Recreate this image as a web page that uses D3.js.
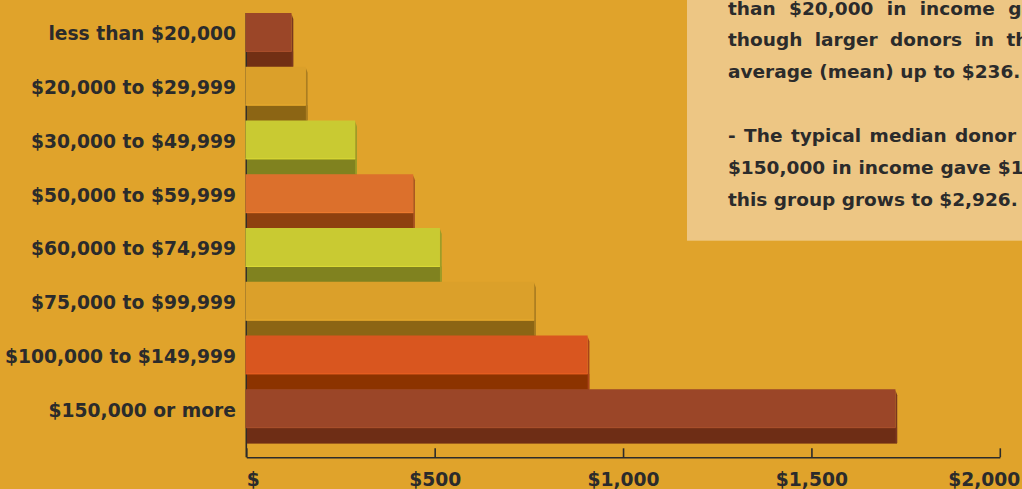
<!DOCTYPE html>
<html>
<head>
<meta charset="utf-8">
<script src="https://cdn.jsdelivr.net/npm/d3@7"></script>
<style>
  html, body { margin: 0; padding: 0; overflow: hidden; }
  body { background: #e0a32b; }
  text { font-family: "DejaVu Sans", sans-serif; font-weight: bold; fill: #2b2b2b; }
</style>
</head>
<body>
<svg></svg>
<script>
// income groups, top to bottom
var categories = ['less than $20,000', '$20,000 to $29,999', '$30,000 to $49,999',
    '$50,000 to $59,999', '$60,000 to $74,999', '$75,000 to $99,999',
    '$100,000 to $149,999', '$150,000 or more'];
// median gift in dollars
var values = [120, 158, 289, 443, 514, 764, 906, 1723];
var barColors = ['#9b4628', '#dba02a', '#c9ca32', '#dc702c', '#c9ca32', '#dba02a', '#d9561f', '#9b4628'];
var shadeColors = ['#722f14', '#8c6514', '#80821f', '#8e400f', '#80821f', '#8c6514', '#8c3300', '#6e2d15'];
var tickValues = [0, 500, 1000, 1500, 2000];
var tickLabels = ['$', '$500', '$1,000', '$1,500', '$2,000'];
var noteLines = [
    {t: 'than $20,000 in income gave', ws: 7},
    {t: 'though larger donors in this group', ws: 6},
    {t: 'average (mean) up to $236.', ws: 0.3},
    {t: '', ws: 0},
    {t: '- The typical median donor with', ws: 2},
    {t: '$150,000 in income gave $1', ws: 0.5},
    {t: 'this group grows to $2,926.', ws: 0}
];

var width = 1022,
    height = 489;

var svg = d3.select('svg')
    .attr('width', width)
    .attr('height', height);

svg.append('rect')
    .attr('width', width)
    .attr('height', height)
    .attr('fill', '#e0a32b');

// note box on the right
svg.append('rect')
    .attr('x', 687)
    .attr('y', -10)
    .attr('width', 400)
    .attr('height', 250.7)
    .attr('fill', '#edc684');

svg.selectAll('text.note')
    .data(noteLines)
    .enter().append('text')
    .classed('note', true)
    .attr('x', 728)
    .attr('y', function(d, i){ return 14.5 + i * 31.9; })
    .style('font-size', '18.5px')
    .style('word-spacing', function(d){ return d.ws + 'px'; })
    .text(function(d){ return d.t; });

var x = d3.scaleLinear()
    .domain([0, 2000])
    .range([246.3, 999.8]);

var y = d3.scaleBand()
    .domain(categories)
    .range([13, 443])
    .padding(0);

var axisY = 457.3;

// vertical axis line sits behind the bars
svg.append('line')
    .attr('x1', x(0)).attr('x2', x(0))
    .attr('y1', y.range()[0]).attr('y2', axisY)
    .attr('stroke', '#2b2b2b')
    .attr('stroke-width', 1.6);

var bh = y.bandwidth();
var front = bh * 0.715;

var bars = svg.selectAll('g.bar')
    .data(values)
    .enter().append('g')
    .classed('bar', true);

// darker lower face
bars.append('rect')
    .attr('x', x(0) + 0.6)
    .attr('y', function(d, i){ return y(categories[i]) + front; })
    .attr('width', function(d){ return x(d) - x(0) + 1; })
    .attr('height', bh - front + 0.6)
    .attr('fill', function(d, i){ return shadeColors[i]; });

// right side sliver
bars.append('polygon')
    .attr('points', function(d, i){
        var t = y(categories[i]), e = x(d);
        return [[e, t + 1], [e + 1.8, t + 6], [e + 1.8, t + bh], [e, t + bh]].join(' ');
    })
    .attr('fill', function(d, i){ return d3.color(barColors[i]).darker(0.7); });

// main front face
bars.append('rect')
    .attr('x', x(0) - 0.8)
    .attr('y', function(d, i){ return y(categories[i]); })
    .attr('width', function(d){ return x(d) - x(0) + 0.8; })
    .attr('height', front)
    .attr('fill', function(d, i){ return barColors[i]; });

bars.append('line')
    .attr('x1', x(0) - 0.8)
    .attr('x2', function(d){ return x(d); })
    .attr('y1', function(d, i){ return y(categories[i]) + front; })
    .attr('y2', function(d, i){ return y(categories[i]) + front; })
    .attr('stroke', function(d, i){ return d3.color(barColors[i]).brighter(0.25); })
    .attr('stroke-width', 1);

// category labels
svg.selectAll('text.cat')
    .data(categories)
    .enter().append('text')
    .classed('cat', true)
    .attr('x', 236)
    .attr('y', function(d){ return y(d) + bh / 2 + 0.5; })
    .attr('text-anchor', 'end')
    .style('font-size', '18.7px')
    .text(function(d){ return d; });

// x axis, ticks pointing up
var xAxis = d3.axisBottom(x)
    .tickValues(tickValues)
    .tickFormat(function(d, i){ return tickLabels[i]; })
    .tickSizeInner(-9)
    .tickSizeOuter(0)
    .tickPadding(15);

var ax = svg.append('g')
    .attr('transform', 'translate(0,' + axisY + ')')
    .call(xAxis);

ax.select('.domain')
    .attr('stroke', '#2b2b2b')
    .attr('stroke-width', 1.6);
ax.selectAll('.tick line')
    .attr('stroke', '#2b2b2b')
    .attr('stroke-width', 1.6);
ax.selectAll('.tick text')
    .attr('fill', '#2b2b2b')
    .style('font-size', '18.7px')
    .style('font-family', '"DejaVu Sans", sans-serif')
    .style('font-weight', 'bold')
    .attr('text-anchor', function(d, i){
        return i == 0 ? 'start' : (i == tickValues.length - 1 ? 'end' : 'middle');
    })
    .attr('dx', function(d, i){ return i == tickValues.length - 1 ? 20 : 0; });
</script>
</body>
</html>
